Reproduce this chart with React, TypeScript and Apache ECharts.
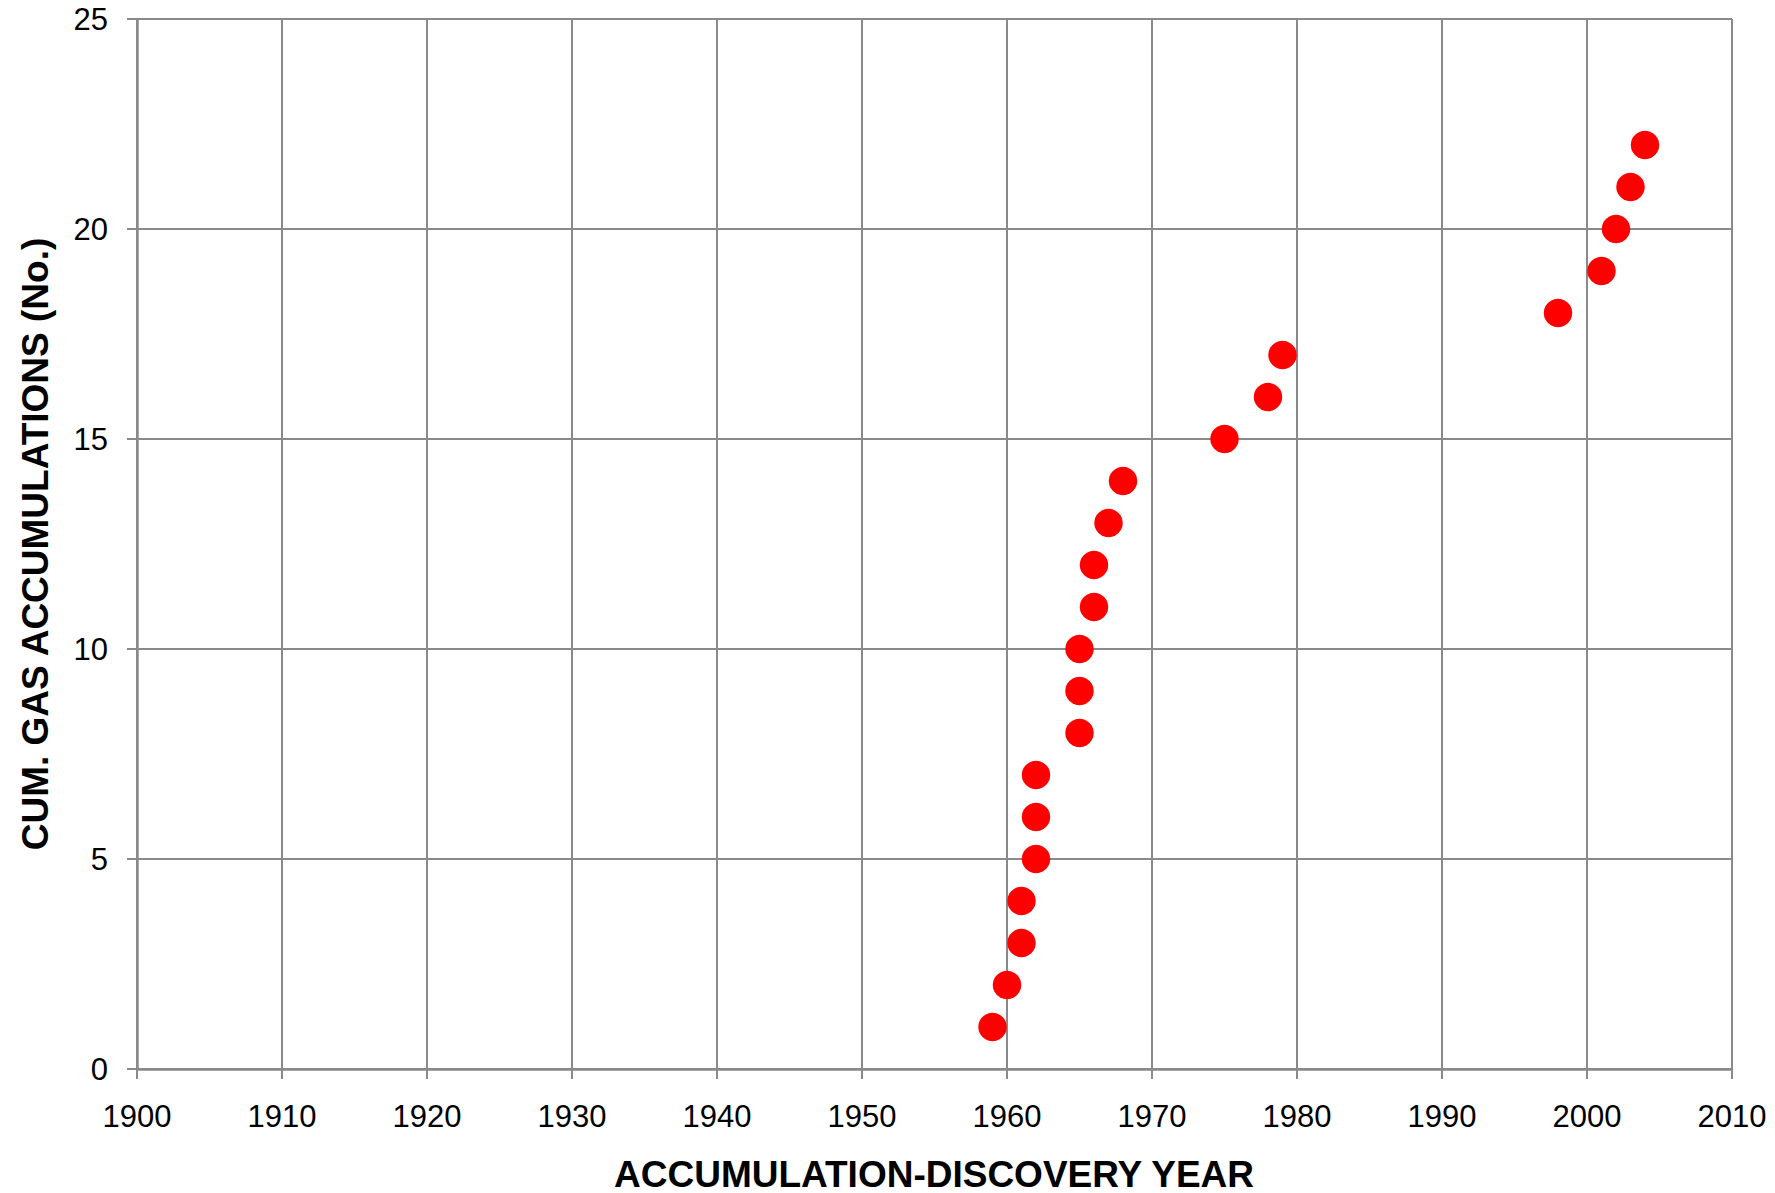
import React, { useEffect, useRef } from "react";
import * as echarts from "echarts";

const years = [1959, 1960, 1961, 1961, 1962, 1962, 1962, 1965, 1965, 1965, 1966, 1966, 1967, 1968, 1975, 1978, 1979, 1998, 2001, 2002, 2003, 2004];
const counts = [1, 2, 3, 4, 5, 6, 7, 8, 9, 10, 11, 12, 13, 14, 15, 16, 17, 18, 19, 20, 21, 22];
const xTitle = "ACCUMULATION-DISCOVERY YEAR";
const yTitle = "CUM. GAS ACCUMULATIONS (No.)";

export default function App() {
  const ref = useRef<HTMLDivElement>(null);
  useEffect(() => {
    document.body.style.margin = "0";
    const chart = echarts.init(ref.current!, undefined, { renderer: "svg" });
    const gray = "#8a8a8a";
    const font = "'Liberation Sans', Arial, sans-serif";
    chart.setOption({
      animation: false,
      backgroundColor: "#ffffff",
      grid: { left: 137, top: 19, right: 43, bottom: 124, containLabel: false },
      xAxis: {
        type: "value",
        min: 1900,
        max: 2010,
        interval: 10,
        axisLine: { show: true, lineStyle: { color: gray, width: 2.5 } },
        axisTick: { show: true, length: 10, lineStyle: { color: gray, width: 2 } },
        axisLabel: { margin: 32, fontSize: 31, color: "#000", fontFamily: font, formatter: (v: number) => String(v) },
        splitLine: { show: true, lineStyle: { color: gray, width: 2 } },
      },
      yAxis: {
        type: "value",
        min: 0,
        max: 25,
        interval: 5,
        axisLine: { show: true, lineStyle: { color: gray, width: 2.5 } },
        axisTick: { show: true, length: 10, lineStyle: { color: gray, width: 2 } },
        axisLabel: { margin: 29, fontSize: 31, color: "#000", fontFamily: font },
        splitLine: { show: true, lineStyle: { color: gray, width: 2 } },
      },
      graphic: [
        {
          type: "text",
          x: 934,
          y: 1174,
          style: {
            text: xTitle,
            fontSize: 37,
            fontWeight: "bold",
            fontFamily: font,
            fill: "#000",
            align: "center",
            verticalAlign: "middle",
          },
        },
        {
          type: "text",
          x: 35,
          y: 544,
          rotation: Math.PI / 2,
          style: {
            text: yTitle,
            fontSize: 37,
            fontWeight: "bold",
            fontFamily: font,
            fill: "#000",
            align: "center",
            verticalAlign: "middle",
          },
        },
      ],
      series: [
        {
          type: "scatter",
          data: years.map((y, i) => [y, counts[i]]),
          symbol: "circle",
          symbolSize: 28.5,
          itemStyle: { color: "#ff0000", opacity: 1 },
        },
      ],
    });
    return () => chart.dispose();
  }, []);
  return <div ref={ref} style={{ position: "absolute", left: 0, top: 0, width: 1775, height: 1193 }} />;
}
